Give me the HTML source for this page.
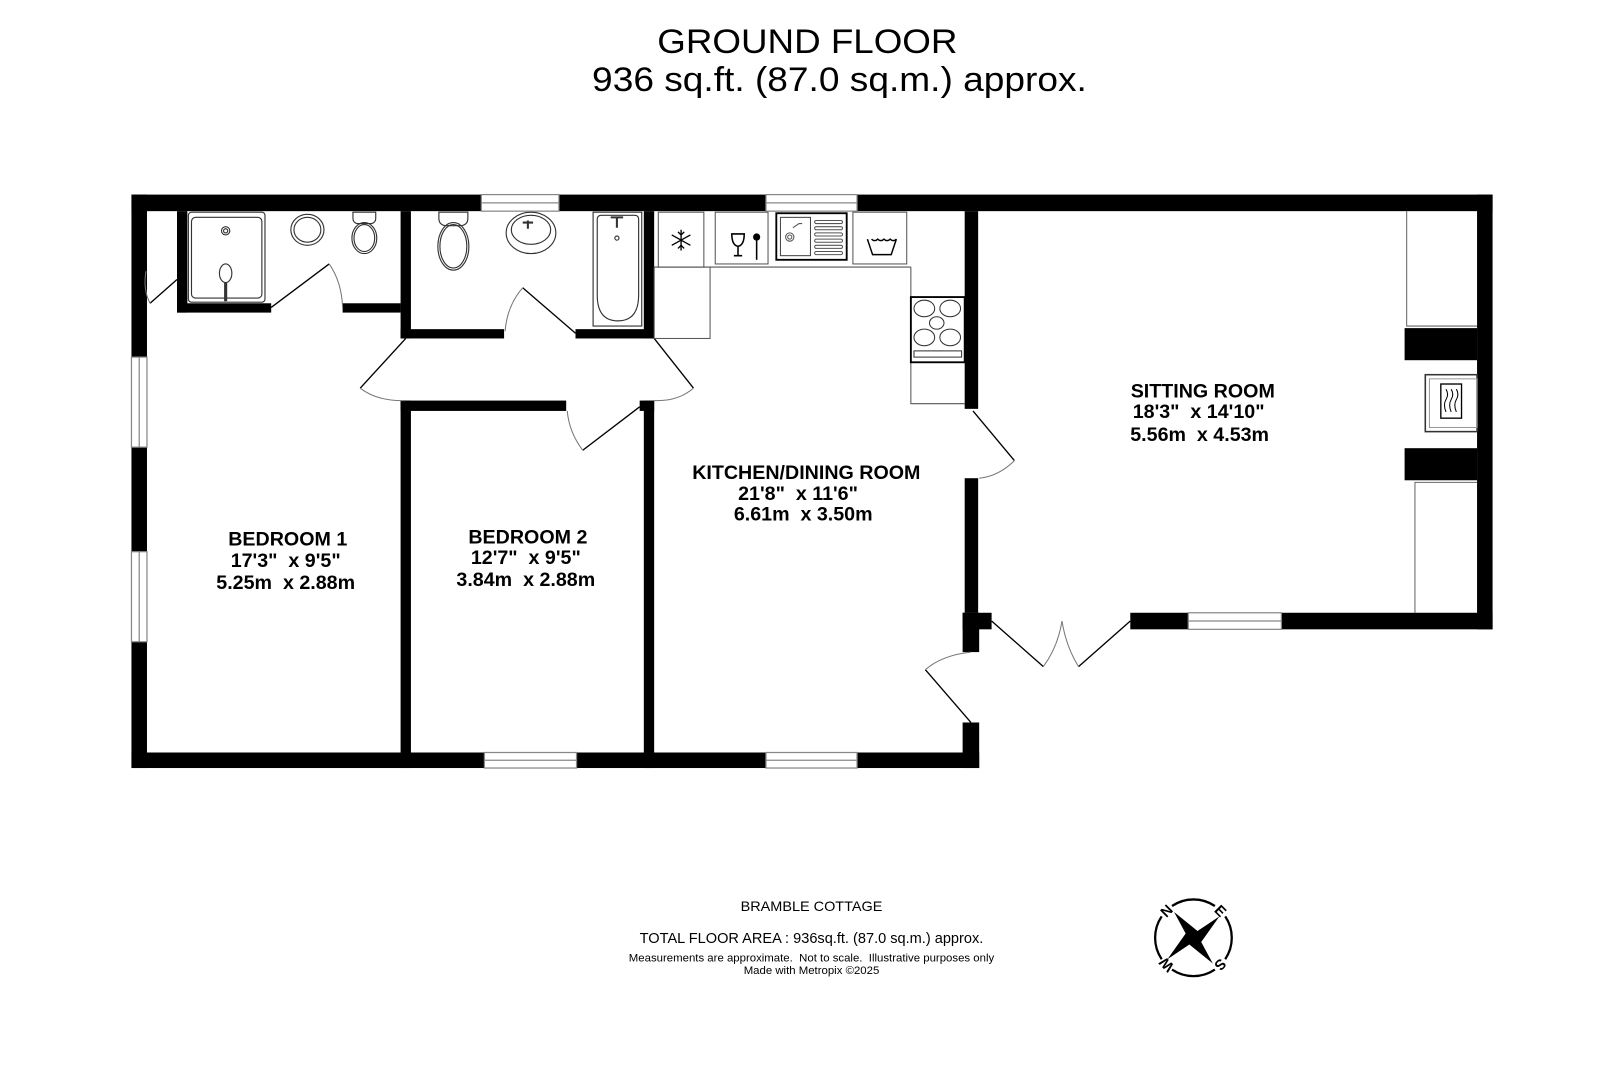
<!DOCTYPE html>
<html><head><meta charset="utf-8"><style>
html,body{margin:0;padding:0;background:#fff;}
svg{display:block;}
text{font-family:"Liberation Sans",sans-serif;fill:#000;white-space:pre;}
.b{font-weight:bold;font-size:19px;}
</style></head><body>
<svg width="1623" height="1080" viewBox="0 0 1568 1043.4" xmlns="http://www.w3.org/2000/svg" xml:space="preserve">
<rect width="1568" height="1044" fill="#fff"/>
<text x="780" y="51" font-size="33" text-anchor="middle" textLength="290" lengthAdjust="spacingAndGlyphs">GROUND FLOOR</text>
<text x="811" y="88" font-size="33" text-anchor="middle" textLength="478" lengthAdjust="spacingAndGlyphs">936 sq.ft. (87.0 sq.m.) approx.</text>

<g fill="#000">
<rect x="127" y="188" width="1315" height="16"/>
<rect x="127" y="188" width="15" height="554"/>
<rect x="127" y="727" width="819" height="15"/>
<rect x="1427" y="188" width="15" height="420"/>
<rect x="1092" y="592" width="350" height="16"/>
<rect x="932" y="204" width="13" height="191"/>
<rect x="932" y="462" width="13" height="130"/>
<rect x="930" y="592" width="28" height="16"/>
<rect x="930" y="592" width="16" height="38"/>
<rect x="930" y="698" width="16" height="44"/>
<rect x="171" y="204" width="10" height="98"/>
<rect x="171" y="293" width="91" height="9"/>
<rect x="331" y="293" width="56" height="9"/>
<rect x="387" y="204" width="10" height="123"/>
<rect x="387" y="318" width="100" height="9"/>
<rect x="556" y="318" width="76" height="9"/>
<rect x="622" y="204" width="10" height="123"/>
<rect x="387" y="387" width="160" height="10"/>
<rect x="387" y="387" width="10" height="355"/>
<rect x="618" y="387" width="14" height="10"/>
<rect x="622" y="387" width="10" height="355"/>
<rect x="1357" y="317" width="70" height="31"/>
<rect x="1357" y="433" width="70" height="31"/>
</g>

<g fill="#fff" stroke="#888" stroke-width="1.2">
<rect x="465" y="188" width="75" height="16"/><line x1="465" y1="196" x2="540" y2="196"/>
<rect x="740" y="188" width="88" height="16"/><line x1="740" y1="196" x2="828" y2="196"/>
<rect x="127" y="345" width="15" height="87"/><line x1="134.5" y1="345" x2="134.5" y2="432"/>
<rect x="127" y="533" width="15" height="87"/><line x1="134.5" y1="533" x2="134.5" y2="620"/>
<rect x="468" y="727" width="89" height="15"/><line x1="468" y1="734.5" x2="557" y2="734.5"/>
<rect x="740" y="727" width="88" height="15"/><line x1="740" y1="734.5" x2="828" y2="734.5"/>
<rect x="1148" y="592" width="90" height="16"/><line x1="1148" y1="600" x2="1238" y2="600"/>
</g>

<g fill="none" stroke="#000" stroke-width="1.3">
<line x1="145" y1="293" x2="171" y2="270"/>
<line x1="262" y1="297" x2="318" y2="255"/>
<line x1="556" y1="322" x2="505" y2="278"/>
<line x1="392" y1="327" x2="348" y2="375"/>
<line x1="632" y1="327" x2="670" y2="375"/>
<line x1="618" y1="393" x2="563" y2="435"/>
<line x1="940" y1="397" x2="980" y2="445"/>
<line x1="938" y1="698" x2="894" y2="647"/>
<line x1="958" y1="600" x2="1008" y2="644"/>
<line x1="1092" y1="600" x2="1042" y2="644"/>
</g>
<g fill="none" stroke="#777" stroke-width="1">
<path d="M145 293 Q138 280 141 262"/>
<path d="M318 255 Q330 272 331 297"/>
<path d="M505 278 Q490 295 488 320"/>
<path d="M348 375 Q365 388 392 387"/>
<path d="M670 375 Q655 388 632 387"/>
<path d="M563 435 Q550 418 548 397"/>
<path d="M980 445 Q965 460 946 462"/>
<path d="M894 647 Q910 633 938 630"/>
<path d="M1008 644 Q1022 625 1026 600 Q1030 625 1042 644"/>
</g>

<g fill="none" stroke="#666" stroke-width="1">
<polyline points="1359,204 1359,315 1427,315"/>
<polyline points="1367,592 1367,466 1427,466"/>
<rect x="1377" y="362" width="50" height="55" stroke="#333" stroke-width="1.5"/>
<rect x="1381" y="366" width="46" height="47" stroke="#999"/>
<rect x="1392" y="371" width="20" height="33" stroke="#000" stroke-width="1.3"/>
<path d="M1397 376 q3 5 0 10 q-3 5 0 12 M1402 376 q3 5 0 10 q-3 5 0 12 M1407 376 q3 5 0 10 q-3 5 0 12" stroke="#000"/>
</g>

<g fill="none" stroke="#555" stroke-width="1">
<polyline points="632,258 880,258"/>
<rect x="632" y="258" width="54" height="69"/>
<polyline points="880,258 880,390 932,390"/>
<rect x="636" y="205" width="44" height="53"/>
<rect x="691" y="205" width="51" height="50"/>
<rect x="824" y="205" width="52" height="50"/>
</g>
<rect x="750" y="206" width="68" height="45" fill="#fff" stroke="#000" stroke-width="1.8"/>
<rect x="754" y="210" width="29" height="37" fill="none" stroke="#444"/>
<g stroke="#555" fill="none">
<rect x="787" y="213" width="27" height="3" rx="1.5"/><rect x="787" y="219" width="27" height="3" rx="1.5"/><rect x="787" y="225" width="27" height="3" rx="1.5"/><rect x="787" y="231" width="27" height="3" rx="1.5"/><rect x="787" y="237" width="27" height="3" rx="1.5"/><rect x="787" y="243" width="27" height="3" rx="1.5"/>
<circle cx="763" cy="229" r="4"/><circle cx="763" cy="229" r="2"/>
<path d="M766 220 l6 -4 h3"/>
</g>
<g stroke="#000" stroke-width="1.3" fill="none">
<path d="M658 222 v20 M649 227 l18 10 M649 237 l18 -10"/>
<path d="M655 224 l3 3 l3 -3 M655 240 l3 -3 l3 3"/>
</g>
<g stroke="#000" stroke-width="1.5" fill="none">
<path d="M707 226 h12 q0 11 -6 12 q-6 -1 -6 -12 z M713 238 v9 M709 247 h8"/>
<line x1="731" y1="230" x2="731" y2="251"/>
</g>
<circle cx="731" cy="229" r="3.5" fill="#000"/>
<path d="M838 231 l5 15 h18 l5 -15 q-3 3 -6 0 q-3 3 -6 0 q-3 3 -6 0 q-3 3 -6 0" fill="none" stroke="#000" stroke-width="1.4"/>
<rect x="880" y="287" width="52" height="63" fill="#fff" stroke="#000" stroke-width="1.8"/>
<g fill="none" stroke="#333">
<ellipse cx="893" cy="298" rx="10" ry="8"/><ellipse cx="918" cy="298" rx="10" ry="8"/>
<ellipse cx="905" cy="312" rx="7" ry="6"/>
<ellipse cx="893" cy="326" rx="10" ry="8"/><ellipse cx="918" cy="326" rx="10" ry="8"/>
<rect x="883" y="339" width="46" height="6"/>
</g>

<g fill="none" stroke="#333" stroke-width="1.1">
<rect x="182" y="205" width="74" height="87" rx="3"/>
<rect x="185" y="210" width="68" height="78" rx="4"/>
<circle cx="218" cy="223" r="4"/><circle cx="218" cy="223" r="2"/>
<ellipse cx="218" cy="264" rx="6" ry="9"/>
<line x1="218" y1="273" x2="218" y2="291" stroke-width="3"/>
<ellipse cx="297" cy="222" rx="16" ry="15"/><ellipse cx="297" cy="222" rx="13" ry="12"/>
<path d="M341 205 h22 v6 q0 4 -4 5 h-14 q-4 -1 -4 -5 z"/>
<ellipse cx="352" cy="230" rx="12" ry="15"/><ellipse cx="352" cy="230" rx="10" ry="13"/>
<path d="M424 205 h28 v6 q0 6 -6 7 h-16 q-6 -1 -6 -7 z"/>
<ellipse cx="438" cy="238" rx="15" ry="23"/><ellipse cx="438" cy="238" rx="13" ry="21"/>
<ellipse cx="513" cy="225" rx="24" ry="20"/><ellipse cx="513" cy="222" rx="19" ry="14"/>
<rect x="573" y="205" width="47" height="110"/>
<path d="M577 212 q0 -4 4 -4 h32 q4 0 4 4 v73 q0 25 -20 25 q-20 0 -20 -25 z"/>
<circle cx="596" cy="230" r="2"/>
</g>
<path d="M510 213 v8 M505 215 h10 M590 210 h12 M596 210 v10" stroke="#333" stroke-width="2" fill="none"/>

<g text-anchor="middle">
<text class="b" x="278" y="527">BEDROOM 1</text>
<text class="b" x="276" y="548">17'3"  x 9'5"</text>
<text class="b" x="276" y="569">5.25m  x 2.88m</text>
<text class="b" x="510" y="525">BEDROOM 2</text>
<text class="b" x="508" y="545">12'7"  x 9'5"</text>
<text class="b" x="508" y="566">3.84m  x 2.88m</text>
<text class="b" x="779" y="463">KITCHEN/DINING ROOM</text>
<text class="b" x="771" y="483">21'8"  x 11'6"</text>
<text class="b" x="776" y="503">6.61m  x 3.50m</text>
<text class="b" x="1162" y="384">SITTING ROOM</text>
<text class="b" x="1158" y="404">18'3"  x 14'10"</text>
<text class="b" x="1159" y="426">5.56m  x 4.53m</text>
</g>

<g text-anchor="middle">
<text x="784" y="880" font-size="13" textLength="137" lengthAdjust="spacingAndGlyphs">BRAMBLE COTTAGE</text>
<text x="784" y="911" font-size="14" textLength="332" lengthAdjust="spacingAndGlyphs">TOTAL FLOOR AREA : 936sq.ft. (87.0 sq.m.) approx.</text>
<text x="784" y="929" font-size="11" textLength="353" lengthAdjust="spacingAndGlyphs">Measurements are approximate.  Not to scale.  Illustrative purposes only</text>
<text x="784" y="941" font-size="11" textLength="131" lengthAdjust="spacingAndGlyphs">Made with Metropix ©2025</text>
</g>

<g transform="translate(1153,906)">
<g fill="none" stroke="#000" stroke-width="2.2">
<path d="M-20.7 -30.7 A37 37 0 0 1 20.7 -30.7"/>
<path d="M30.7 -20.7 A37 37 0 0 1 30.7 20.7"/>
<path d="M20.7 30.7 A37 37 0 0 1 -20.7 30.7"/>
<path d="M-30.7 20.7 A37 37 0 0 1 -30.7 -20.7"/>
</g>
<path d="M-22 -22 L3 -7 L22 -24 L8 3 L22 22 L-3 7 L-22 24 L-8 -3 Z" fill="#000" transform="rotate(8)"/>
<text x="0" y="-32" font-size="14" font-weight="bold" text-anchor="middle" transform="rotate(-45)">N</text>
<text x="0" y="-32" font-size="14" font-weight="bold" text-anchor="middle" transform="rotate(45)">E</text>
<text x="0" y="-32" font-size="14" font-weight="bold" text-anchor="middle" transform="rotate(135)">S</text>
<text x="0" y="-32" font-size="14" font-weight="bold" text-anchor="middle" transform="rotate(-135)">W</text>
</g>
</svg>
</body></html>
